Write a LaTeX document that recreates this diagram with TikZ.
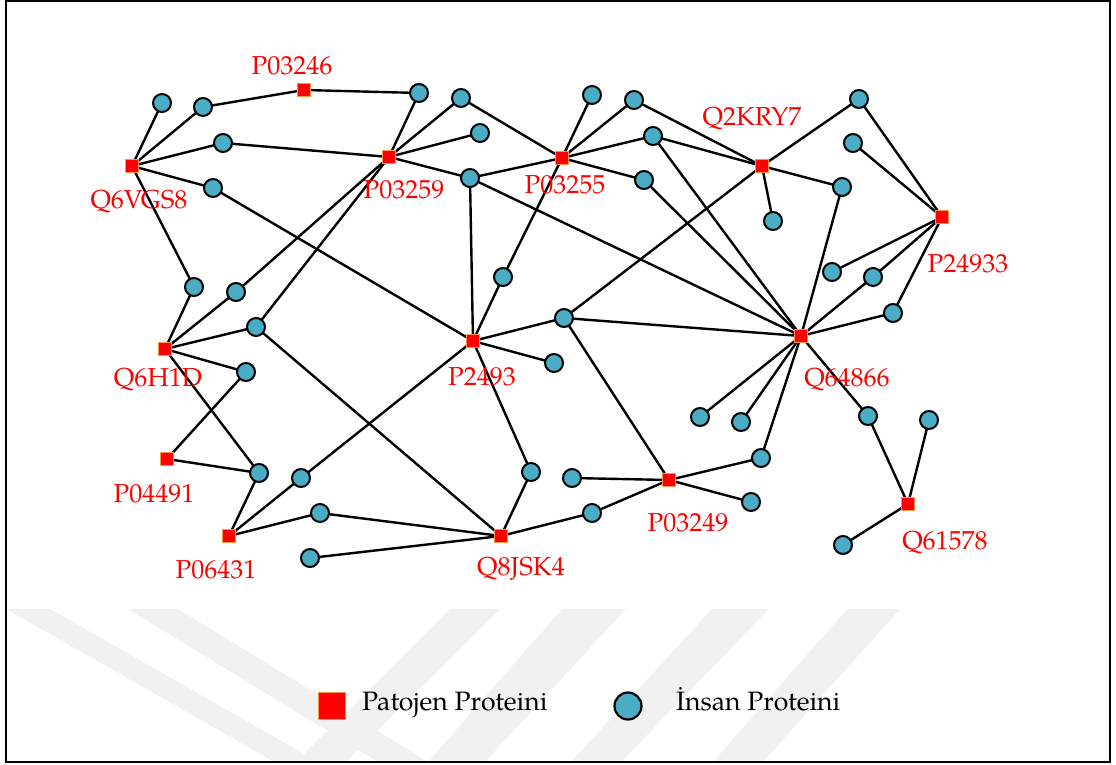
\documentclass[tikz,border=0pt]{standalone}
\usepackage{fontspec}
\setmainfont{TeX Gyre Pagella}
\usetikzlibrary{backgrounds}
\definecolor{pathred}{RGB}{255,0,0}
\definecolor{pathrim}{RGB}{247,150,70}
\definecolor{humanfill}{RGB}{75,172,198}
\definecolor{markgray}{RGB}{241,241,241}
\begin{document}
\begin{tikzpicture}[x=1pt,y=-1pt,
  pathogen/.style={rectangle, fill=pathred, draw=pathrim, line width=1pt,
    minimum size=13.5pt, inner sep=0pt},
  human/.style={circle, fill=humanfill, draw=black, line width=2pt,
    minimum size=18pt, inner sep=0pt},
  plabel/.style={text=pathred, font=\fontsize{26}{30}\selectfont,
    anchor=base, inner sep=0pt},
  legendtext/.style={font=\fontsize{26.6}{30}\selectfont,
    anchor=base west, inner sep=0pt},
  link/.style={line width=2.4pt, black}]
\useasboundingbox (0,0) rectangle (1116,765);

% pathogen proteins
\node[pathogen] (P03246) at (304,90) {};
\node[pathogen] (Q6VGS8) at (132,166) {};
\node[pathogen] (P03259) at (389,157) {};
\node[pathogen] (P03255) at (562,158) {};
\node[pathogen] (Q2KRY7) at (762,166) {};
\node[pathogen] (P24933) at (942,217) {};
\node[pathogen] (Q6H1D) at (165,349) {};
\node[pathogen] (P2493) at (473,341) {};
\node[pathogen] (Q64866) at (801,336) {};
\node[pathogen] (P04491) at (167,459) {};
\node[pathogen] (P06431) at (229,536) {};
\node[pathogen] (Q8JSK4) at (501,536) {};
\node[pathogen] (P03249) at (669,480) {};
\node[pathogen] (Q61578) at (908,504) {};

% their labels
\node[plabel] (lP03246) at (292,75) {P03246};
\node[plabel] (lQ6VGS8) at (139,208) {Q6VGS8};
\node[plabel] (lP03259) at (404,198) {P03259};
\node[plabel] (lP03255) at (565,193) {P03255};
\node[plabel] (lQ2KRY7) at (752,126) {Q2KRY7};
\node[plabel] (lP24933) at (968,272) {P24933};
\node[plabel] (lQ6H1D) at (158,386) {Q6H1D};
\node[plabel] (lP2493) at (482,385) {P2493};
\node[plabel] (lQ64866) at (847,386) {Q64866};
\node[plabel] (lP04491) at (154,502) {P04491};
\node[plabel] (lP06431) at (216,578) {P06431};
\node[plabel] (lQ8JSK4) at (521,575) {Q8JSK4};
\node[plabel] (lP03249) at (688,531) {P03249};
\node[plabel] (lQ61578) at (945,549) {Q61578};

% human proteins
\foreach \n/\x/\y in {
  1/162/103, 2/203/107, 3/223/143, 4/213/188, 5/419/93, 6/461/98,
  7/480/133, 8/470/178, 9/592/95, 10/634/100, 11/653/136, 12/644/180,
  13/859/99, 14/853/143, 15/842/187, 16/773/221, 17/832/272, 18/873/277,
  19/893/313, 20/194/287, 21/236/292, 22/256/327, 23/246/372, 24/503/277,
  25/564/318, 26/554/363, 27/700/417, 28/741/422, 29/868/416, 30/929/420,
  31/761/458, 32/751/502, 33/259/473, 34/301/478, 35/531/472, 36/572/478,
  37/320/513, 38/592/513, 39/310/558, 40/843/545}
  \node[human] (h\n) at (\x,\y) {};

% legend
\node[pathogen, minimum size=27pt, line width=1.5pt] (keyP) at (332,706) {};
\node[legendtext] (keyPtext) at (362,710) {Patojen Proteini};
\node[human, minimum size=27pt, line width=2.2pt] (keyH) at (628,706) {};
\node[legendtext] (keyHtext) at (676,710) {İnsan Proteini};

\begin{pgfonlayer}{background}
  % faint background mark
  \begin{scope}
    \clip (6,600) rectangle (1110,762);
    \fill[markgray] (6,609) -- (50,609) -- (320,763) -- (276,763) -- cycle;
    \fill[markgray] (128,609) -- (178,609) -- (430,763) -- (380,763) -- cycle;
    \fill[markgray] (450,609) -- (500,609) -- (345,763) -- (295,763) -- cycle;
    \fill[markgray] (562,609) -- (626,609) -- (484,763) -- (427,763) -- cycle;
    \fill[markgray] (712,609) -- (769,609) -- (620,763) -- (570,763) -- cycle;
    \fill[markgray] (847,609) -- (900,609) -- (762,763) -- (712,763) -- cycle;
  \end{scope}
  % interactions
  \foreach \p/\hs in {
    Q6VGS8/{1,2,3,4,20},
    P03246/{2,5},
    P03259/{3,5,6,7,8,21,22},
    P2493/{4,8,24,25,26,34,35},
    Q6H1D/{20,21,22,23,33},
    Q8JSK4/{22,37,39,35,38},
    P04491/{23,33},
    P06431/{33,34,37},
    P03249/{38,36,31,32,25},
    Q64866/{31,25,8,11,12,15,18,19,27,28,29},
    Q2KRY7/{25,10,11,13,16,15},
    P03255/{6,8,9,10,11,12,24},
    P24933/{13,14,17,18,19},
    Q61578/{29,30,40}}
    \foreach \h in \hs
      \draw[link] (\p.center) -- (h\h.center);
\end{pgfonlayer}

% frame
\draw[line width=2pt] (6,1) rectangle (1110,762);
\end{tikzpicture}
\end{document}
